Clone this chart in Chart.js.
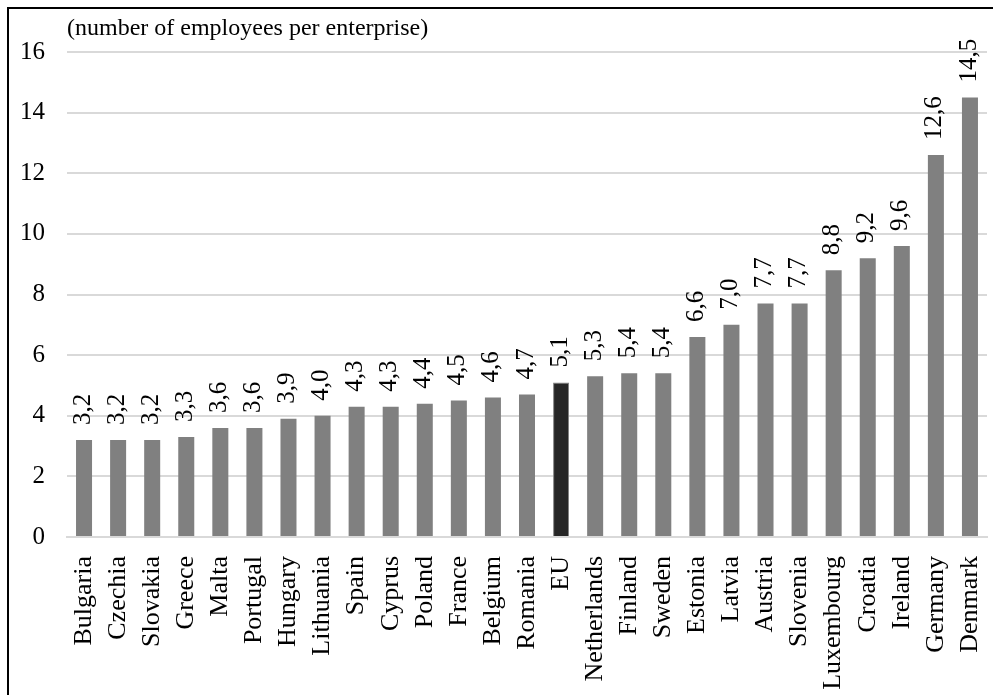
<!DOCTYPE html>
<html>
<head>
<meta charset="utf-8">
<script src="https://cdn.jsdelivr.net/npm/chart.js@4.4.1/dist/chart.umd.min.js"></script>
<style>
html,body{margin:0;padding:0;background:#fff;}
#wrap{position:relative;width:993px;height:695px;}
canvas{display:block;}
</style>
</head>
<body>
<div id="wrap"><canvas id="c" width="993" height="695"></canvas></div>
<script>
const categories = ["Bulgaria","Czechia","Slovakia","Greece","Malta","Portugal","Hungary","Lithuania","Spain","Cyprus","Poland","France","Belgium","Romania","EU","Netherlands","Finland","Sweden","Estonia","Latvia","Austria","Slovenia","Luxembourg","Croatia","Ireland","Germany","Denmark"];
const values = [3.2,3.2,3.2,3.3,3.6,3.6,3.9,4.0,4.3,4.3,4.4,4.5,4.6,4.7,5.1,5.3,5.4,5.4,6.6,7.0,7.7,7.7,8.8,9.2,9.6,12.6,14.5];
const unitLabel = "(number of employees per enterprise)";
const highlight = "EU";

const FONT = "'Liberation Serif', 'Times New Roman', serif";
const fillColors = categories.map(c => c === highlight ? '#262626' : '#808080');

const valueLabels = {
  id: 'valueLabels',
  afterDatasetsDraw(chart) {
    const ctx = chart.ctx;
    const meta = chart.getDatasetMeta(0);
    ctx.save();
    ctx.fillStyle = '#000';
    ctx.font = '25px ' + FONT;
    ctx.textAlign = 'left';
    ctx.textBaseline = 'middle';
    meta.data.forEach((el, i) => {
      const txt = values[i].toFixed(1).replace('.', ',');
      ctx.save();
      ctx.translate(el.x - 1, el.y - 15);
      ctx.rotate(-Math.PI / 2);
      ctx.fillText(txt, 0, 0);
      ctx.restore();
    });
    ctx.restore();
  }
};

const frame = {
  id: 'frame',
  afterDraw(chart) {
    const ctx = chart.ctx;
    const a = chart.chartArea;
    ctx.save();
    ctx.fillStyle = '#000';
    ctx.font = '24px ' + FONT;
    ctx.textAlign = 'left';
    ctx.textBaseline = 'middle';
    ctx.fillText(unitLabel, a.left, 29);
    ctx.strokeStyle = '#000';
    ctx.lineWidth = 2;
    ctx.beginPath();
    ctx.moveTo(8, 695);
    ctx.lineTo(8, 8);
    ctx.lineTo(993, 8);
    ctx.stroke();
    ctx.restore();
  }
};

new Chart(document.getElementById('c'), {
  type: 'bar',
  data: {
    labels: categories,
    datasets: [{
      data: values,
      backgroundColor: fillColors,
      borderColor: '#808080',
      borderWidth: categories.map(c => c === highlight ? 1 : 0),
      barPercentage: 0.94,
      categoryPercentage: 0.5
    }]
  },
  options: {
    responsive: false,
    animation: false,
    devicePixelRatio: 1,
    layout: { padding: { left: 0, right: 6, top: 52, bottom: 0 } },
    plugins: { legend: { display: false }, tooltip: { enabled: false }, title: { display: false } },
    scales: {
      x: {
        grid: { display: false, drawTicks: false },
        border: { display: true, color: '#d9d9d9', width: 2 },
        ticks: {
          color: '#000', font: { family: FONT, size: 26 },
          minRotation: 90, maxRotation: 90, autoSkip: false, padding: 19
        },
        afterFit(s) { s.height = 158; s.paddingLeft = 0; s.paddingRight = 0; }
      },
      y: {
        min: 0, max: 16,
        grid: { color: '#d9d9d9', lineWidth: 2, drawTicks: false },
        border: { display: false },
        ticks: {
          stepSize: 2, color: '#000', font: { family: FONT, size: 25 }, padding: 22
        },
        afterFit(s) { s.width = 67; }
      }
    }
  },
  plugins: [valueLabels, frame]
});
</script>
</body>
</html>
